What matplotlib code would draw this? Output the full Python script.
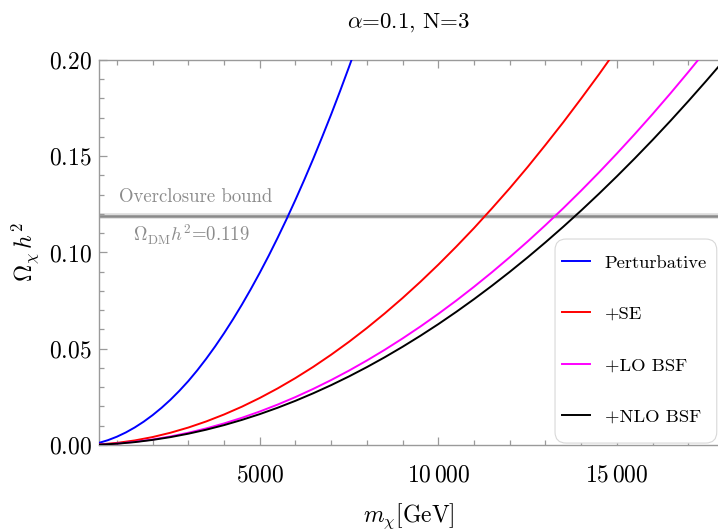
import matplotlib

matplotlib.use("Agg")
import matplotlib.pyplot as plt
from matplotlib.patches import FancyBboxPatch
from matplotlib.ticker import FixedLocator, FixedFormatter, MultipleLocator

# masses in GeV
mass_pert = [500, 750, 1000, 1250, 1500, 1750, 2000, 2250, 2500, 2750, 3000,
             3250, 3500, 3750, 4000, 4250, 4500, 4750, 5000, 5250, 5500,
             5750, 6000, 6250, 6500, 6750, 7000, 7250, 7500, 7750]
omega_pert = [0.00110, 0.00250, 0.00430, 0.00650, 0.00910, 0.01210, 0.01550,
              0.01930, 0.02350, 0.02815, 0.03320, 0.03877, 0.04477, 0.05118,
              0.05802, 0.06526, 0.07290, 0.08097, 0.08944, 0.09829, 0.10760,
              0.11728, 0.12739, 0.13788, 0.14877, 0.16013, 0.17177, 0.18390,
              0.19642, 0.20927]

mass_se = [500, 1000, 1500, 2000, 2500, 3000, 3500, 4000, 4500, 5000, 5500,
           6000, 6500, 7000, 7500, 8000, 8500, 9000, 9500, 10000, 10500,
           11000, 11500, 12000, 12500, 13000, 13500, 14000, 14500, 15000,
           15500]
omega_se = [0.00028, 0.00108, 0.00236, 0.00412, 0.00636, 0.00906, 0.01222,
            0.01584, 0.01989, 0.02442, 0.02938, 0.03478, 0.04061, 0.04691,
            0.05362, 0.06077, 0.06836, 0.07636, 0.08481, 0.09369, 0.1030,
            0.1127, 0.1229, 0.1334, 0.1444, 0.1559, 0.1677, 0.1800, 0.1926,
            0.2057, 0.2193]

mass_bsf = [500, 1000, 1500, 2000, 2500, 3000, 3500, 4000, 4500, 5000, 5500,
            6000, 6500, 7000, 7500, 8000, 8500, 9000, 9500, 10000, 10500,
            11000, 11500, 12000, 12500, 13000, 13500, 14000, 14500, 15000,
            15500, 16000, 16500, 17000, 17500, 18000]
omega_lo = [0.000186, 0.00073, 0.00162, 0.00286, 0.00444, 0.00636, 0.00861,
            0.01120, 0.01413, 0.01739, 0.02098, 0.02490, 0.02916, 0.03374,
            0.03865, 0.04389, 0.04946, 0.05536, 0.06157, 0.06812, 0.07499,
            0.08220, 0.08972, 0.09757, 0.10573, 0.11422, 0.12303, 0.13217,
            0.14163, 0.15142, 0.16152, 0.17194, 0.18270, 0.19378, 0.20517,
            0.21685]
omega_nlo = [0.000171, 0.00067, 0.00149, 0.00264, 0.00409, 0.00586, 0.00794,
             0.01032, 0.01303, 0.01603, 0.01934, 0.02295, 0.02688, 0.03110,
             0.03563, 0.04046, 0.04559, 0.05103, 0.05676, 0.06279, 0.06913,
             0.07577, 0.08271, 0.08994, 0.09746, 0.10529, 0.11341, 0.12183,
             0.13056, 0.13958, 0.14889, 0.15849, 0.16841, 0.17863, 0.18913,
             0.19989]

omega_dm = 0.119

x_major = [5000, 10000, 15000]
x_major_labels = [r"$5000$", r"$10\,000$", r"$15\,000$"]
y_major = [0.00, 0.05, 0.10, 0.15, 0.20]
y_major_labels = [r"$0.00$", r"$0.05$", r"$0.10$", r"$0.15$", r"$0.20$"]

FRAME = "#9a9a9a"
GRAY_TEXT = "#8c8c8c"

plt.rcParams["mathtext.fontset"] = "cm"
plt.rcParams["font.family"] = ["cmr10", "DejaVu Serif"]
plt.rcParams["axes.unicode_minus"] = False

fig = plt.figure(figsize=(7.18, 5.30), dpi=100)
ax = fig.add_axes([0.1379, 0.1604, 0.8621, 0.7264])

# overclosure band
ax.axhline(omega_dm, color="#dcdcdc", lw=4.0, zorder=1)
ax.axhline(omega_dm, color="#8a8a8a", lw=1.8, zorder=1)

ax.plot(mass_pert, omega_pert, color="#0000ff", lw=1.4, label="Perturbative", zorder=3)
ax.plot(mass_se, omega_se, color="#ff0000", lw=1.4, label="+SE", zorder=3)
ax.plot(mass_bsf, omega_lo, color="#ff00ff", lw=1.4, label="+LO BSF", zorder=3)
ax.plot(mass_bsf, omega_nlo, color="#000000", lw=1.4, label="+NLO BSF", zorder=3)

ax.text(1060, 0.1288, "Overclosure bound", fontsize=13.5, color=GRAY_TEXT,
        ha="left", va="center")
ax.text(1450, 0.1090, r"$\Omega_{\rm DM}h^2$=0.119", fontsize=13.5,
        color=GRAY_TEXT, ha="left", va="center")

ax.set_xlim(500, 17830)
ax.set_ylim(0, 0.2)

ax.xaxis.set_major_locator(FixedLocator(x_major))
ax.xaxis.set_major_formatter(FixedFormatter(x_major_labels))
ax.xaxis.set_minor_locator(MultipleLocator(1000))
ax.yaxis.set_major_locator(FixedLocator(y_major))
ax.yaxis.set_major_formatter(FixedFormatter(y_major_labels))
ax.yaxis.set_minor_locator(MultipleLocator(0.01))

ax.tick_params(axis="both", which="both", direction="in", color=FRAME,
               top=True, right=False, labelsize=17, width=0.9)
ax.tick_params(axis="both", which="major", length=6)
ax.tick_params(axis="both", which="minor", length=3.5)
ax.tick_params(axis="x", which="major", pad=14)
ax.tick_params(axis="y", which="major", pad=5)

for name, spine in ax.spines.items():
    spine.set_color(FRAME)
    spine.set_linewidth(1.0)
ax.spines["right"].set_visible(False)

ax.set_title(r"$\alpha$=0.1, N=3", fontsize=16.5, pad=23)
ax.set_xlabel(r"$m_\chi$[GeV]", fontsize=17, labelpad=11)
ax.set_ylabel(r"$\Omega_\chi\,h^2$", fontsize=17, labelpad=6)

# legend box drawn separately so its padding can differ per side
box = FancyBboxPatch((0.7367, 0.005), 0.2613, 0.530, transform=ax.transAxes,
                     boxstyle="round,pad=0,rounding_size=0.018",
                     facecolor="white", edgecolor="#d8d8d8", lw=0.8,
                     zorder=4, mutation_aspect=1.6)
ax.add_patch(box)

leg = ax.legend(loc="lower right", bbox_to_anchor=(0.999, 0.026), fontsize=13.4,
                frameon=False, handlelength=1.5, handletextpad=0.8,
                labelspacing=1.9, borderpad=0.55, borderaxespad=0.0)
leg.set_zorder(5)

fig.savefig("out.png", dpi=100)
